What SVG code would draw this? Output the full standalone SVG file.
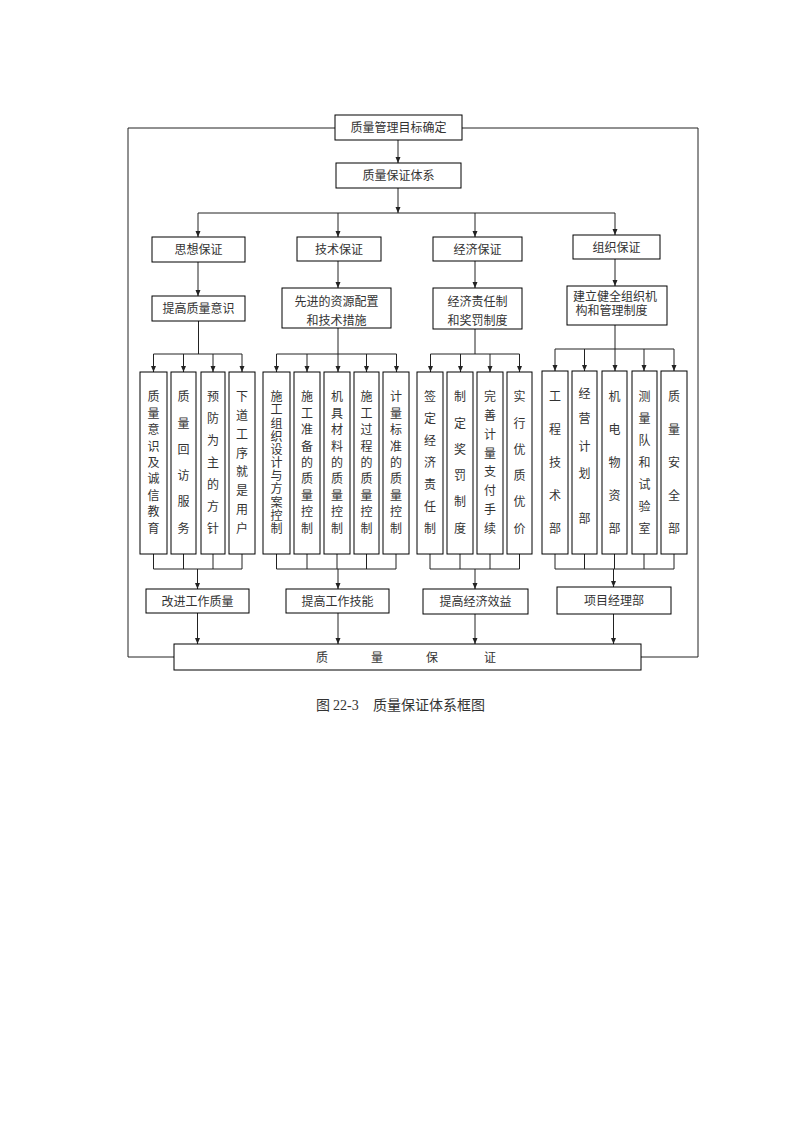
<svg xmlns="http://www.w3.org/2000/svg" width="793" height="1122" viewBox="0 0 793 1122">
<defs>
<marker id="arr" markerWidth="6" markerHeight="6" refX="6" refY="3" orient="auto" markerUnits="userSpaceOnUse"><path d="M0,0.5 L6,3 L0,5.5 z" fill="#222"/></marker>
<style>
.box{fill:#fff;stroke:#000;stroke-width:1}
.t{font-family:"Liberation Serif","Noto Sans CJK SC",serif;font-size:12px;fill:#333;text-anchor:middle}
.l{text-anchor:start}
.c path{fill:none;stroke:#222;stroke-width:1}
.c path.a{marker-end:url(#arr)}
</style>
</defs>
<rect width="793" height="1122" fill="#fff"/>
<g id="connectors" class="c">
<path d="M335,128 H128 V657 H174 M462,128 H698 V657 H641"/>
<path class="a" d="M398,140 V163"/>
<path class="a" d="M398,188 V213"/>
<path d="M198,213 H615"/>
<path class="a" d="M198,213 V237"/>
<path class="a" d="M338,213 V237"/>
<path class="a" d="M475,213 V237"/>
<path class="a" d="M615,213 V235"/>
<path class="a" d="M198,262 V296"/>
<path class="a" d="M338,261 V288"/>
<path class="a" d="M475,261 V288"/>
<path class="a" d="M615,259 V286"/>
<path d="M198.5,321 V354 M153.5,354 H242 M338,328 V354 M276.5,354 H396.5 M475,329 V354 M430.5,354 H519.5 M615,325 V349 M555,349 H674"/>
<path class="a" d="M153.5,354 V372"/>
<path class="a" d="M183.5,354 V372"/>
<path class="a" d="M213,354 V372"/>
<path class="a" d="M242,354 V372"/>
<path class="a" d="M276.5,354 V372"/>
<path class="a" d="M307,354 V372"/>
<path class="a" d="M338,354 V372"/>
<path class="a" d="M366.5,354 V372"/>
<path class="a" d="M396.5,354 V372"/>
<path class="a" d="M430.5,354 V372"/>
<path class="a" d="M460.5,354 V372"/>
<path class="a" d="M490,354 V372"/>
<path class="a" d="M519.5,354 V372"/>
<path class="a" d="M555,349 V371"/>
<path class="a" d="M584.5,349 V371"/>
<path class="a" d="M615,349 V371"/>
<path class="a" d="M644,349 V371"/>
<path class="a" d="M674,349 V371"/>
<path d="M153.5,554 V569 M183.5,554 V569 M213,554 V569 M242,554 V569 M153.5,569 H242"/>
<path d="M276.5,554 V569 M307,554 V569 M337,554 V569 M366.5,554 V569 M396,554 V569 M276.5,569 H396"/>
<path d="M430,554 V569 M460,554 V569 M490,554 V569 M519.5,554 V569 M430,569 H519.5"/>
<path d="M555,554 V569 M584.5,554 V569 M614.5,554 V569 M644,554 V569 M674,554 V569 M555,569 H674"/>
<path class="a" d="M197.5,569 V589"/>
<path class="a" d="M338,569 V589"/>
<path class="a" d="M475,569 V589"/>
<path class="a" d="M613.5,569 V587"/>
<path class="a" d="M197.5,613 V644"/>
<path class="a" d="M338,613 V644"/>
<path class="a" d="M475,614 V644"/>
<path class="a" d="M613.5,614 V644"/>
</g>
<g id="n-top"><rect class="box" x="335" y="115" width="127" height="25"/><text class="t" x="398.5" y="132">质量管理目标确定</text></g>
<g id="n-system"><rect class="box" x="336" y="163" width="125" height="25"/><text class="t" x="398.5" y="180">质量保证体系</text></g>
<g id="n-sixiang"><rect class="box" x="152" y="237" width="93" height="25"/><text class="t" x="198.5" y="254">思想保证</text></g>
<g id="n-jishu"><rect class="box" x="297" y="237" width="84" height="24"/><text class="t" x="339" y="253.5">技术保证</text></g>
<g id="n-jingji"><rect class="box" x="433" y="237" width="89" height="24"/><text class="t" x="477.5" y="253.5">经济保证</text></g>
<g id="n-zuzhi"><rect class="box" x="573" y="235" width="87" height="24"/><text class="t" x="616.5" y="251.5">组织保证</text></g>
<g id="n-yishi"><rect class="box" x="152" y="296" width="93" height="25"/><text class="t" x="198.5" y="313">提高质量意识</text></g>
<g id="n-ziyuan"><rect class="box" x="282" y="288" width="109" height="40"/><text class="t"><tspan x="336.5" y="305.5">先进的资源配置</tspan><tspan x="336.5" y="325">和技术措施</tspan></text></g>
<g id="n-zeren"><rect class="box" x="433" y="288" width="89" height="41"/><text class="t"><tspan x="477.5" y="305.5">经济责任制</tspan><tspan x="477.5" y="325">和奖罚制度</tspan></text></g>
<g id="n-jigou"><rect class="box" x="567" y="286" width="100" height="39"/><text class="t l"><tspan x="573" y="301.2">建立健全组织机</tspan><tspan x="575.5" y="315.2">构和管理制度</tspan></text></g>

<g id="n-v1"><rect class="box" x="140" y="372" width="27" height="182"/><text class="t"><tspan x="153.5" y="401.2">质</tspan><tspan x="153.5" y="417.6">量</tspan><tspan x="153.5" y="434.1">意</tspan><tspan x="153.5" y="450.5">识</tspan><tspan x="153.5" y="467">及</tspan><tspan x="153.5" y="483.4">诚</tspan><tspan x="153.5" y="499.9">信</tspan><tspan x="153.5" y="516.3">教</tspan><tspan x="153.5" y="532.8">育</tspan></text></g>
<g id="n-v2"><rect class="box" x="171" y="372" width="25" height="182"/><text class="t"><tspan x="183.5" y="401.2">质</tspan><tspan x="183.5" y="427.5">量</tspan><tspan x="183.5" y="453.8">回</tspan><tspan x="183.5" y="480.1">访</tspan><tspan x="183.5" y="506.4">服</tspan><tspan x="183.5" y="532.7">务</tspan></text></g>
<g id="n-v3"><rect class="box" x="201" y="372" width="24" height="182"/><text class="t"><tspan x="213" y="401.2">预</tspan><tspan x="213" y="423.1">防</tspan><tspan x="213" y="445.1">为</tspan><tspan x="213" y="467">主</tspan><tspan x="213" y="488.9">的</tspan><tspan x="213" y="510.9">方</tspan><tspan x="213" y="532.8">针</tspan></text></g>
<g id="n-v4"><rect class="box" x="229" y="372" width="26" height="182"/><text class="t"><tspan x="242" y="401.2">下</tspan><tspan x="242" y="420">道</tspan><tspan x="242" y="438.8">工</tspan><tspan x="242" y="457.6">序</tspan><tspan x="242" y="476.4">就</tspan><tspan x="242" y="495.2">是</tspan><tspan x="242" y="514">用</tspan><tspan x="242" y="532.8">户</tspan></text></g>

<g id="n-v5"><rect class="box" x="263" y="372" width="27" height="182"/><text class="t"><tspan x="276.5" y="401.2">施</tspan><tspan x="276.5" y="414.4">工</tspan><tspan x="276.5" y="427.5">组</tspan><tspan x="276.5" y="440.7">织</tspan><tspan x="276.5" y="453.8">设</tspan><tspan x="276.5" y="467">计</tspan><tspan x="276.5" y="480.2">与</tspan><tspan x="276.5" y="493.3">方</tspan><tspan x="276.5" y="506.5">案</tspan><tspan x="276.5" y="519.6">控</tspan><tspan x="276.5" y="532.8">制</tspan></text></g>
<g id="n-v6"><rect class="box" x="294" y="372" width="26" height="182"/><text class="t"><tspan x="307" y="401.2">施</tspan><tspan x="307" y="417.6">工</tspan><tspan x="307" y="434.1">准</tspan><tspan x="307" y="450.5">备</tspan><tspan x="307" y="467">的</tspan><tspan x="307" y="483.4">质</tspan><tspan x="307" y="499.9">量</tspan><tspan x="307" y="516.3">控</tspan><tspan x="307" y="532.8">制</tspan></text></g>
<g id="n-v7"><rect class="box" x="324" y="372" width="26" height="182"/><text class="t"><tspan x="337" y="401.2">机</tspan><tspan x="337" y="417.6">具</tspan><tspan x="337" y="434.1">材</tspan><tspan x="337" y="450.5">料</tspan><tspan x="337" y="467">的</tspan><tspan x="337" y="483.4">质</tspan><tspan x="337" y="499.9">量</tspan><tspan x="337" y="516.3">控</tspan><tspan x="337" y="532.8">制</tspan></text></g>
<g id="n-v8"><rect class="box" x="354" y="372" width="25" height="182"/><text class="t"><tspan x="366.5" y="401.2">施</tspan><tspan x="366.5" y="417.6">工</tspan><tspan x="366.5" y="434.1">过</tspan><tspan x="366.5" y="450.5">程</tspan><tspan x="366.5" y="467">的</tspan><tspan x="366.5" y="483.4">质</tspan><tspan x="366.5" y="499.9">量</tspan><tspan x="366.5" y="516.3">控</tspan><tspan x="366.5" y="532.8">制</tspan></text></g>
<g id="n-v9"><rect class="box" x="383" y="372" width="26" height="182"/><text class="t"><tspan x="396" y="401.2">计</tspan><tspan x="396" y="417.6">量</tspan><tspan x="396" y="434.1">标</tspan><tspan x="396" y="450.5">准</tspan><tspan x="396" y="467">的</tspan><tspan x="396" y="483.4">质</tspan><tspan x="396" y="499.9">量</tspan><tspan x="396" y="516.3">控</tspan><tspan x="396" y="532.8">制</tspan></text></g>

<g id="n-v10"><rect class="box" x="417" y="372" width="26" height="182"/><text class="t"><tspan x="430" y="401.2">签</tspan><tspan x="430" y="423.1">定</tspan><tspan x="430" y="445.1">经</tspan><tspan x="430" y="467">济</tspan><tspan x="430" y="488.9">责</tspan><tspan x="430" y="510.9">任</tspan><tspan x="430" y="532.8">制</tspan></text></g>
<g id="n-v11"><rect class="box" x="447" y="372" width="26" height="182"/><text class="t"><tspan x="460" y="401.2">制</tspan><tspan x="460" y="427.5">定</tspan><tspan x="460" y="453.8">奖</tspan><tspan x="460" y="480.1">罚</tspan><tspan x="460" y="506.4">制</tspan><tspan x="460" y="532.7">度</tspan></text></g>
<g id="n-v12"><rect class="box" x="477" y="372" width="26" height="182"/><text class="t"><tspan x="490" y="401.2">完</tspan><tspan x="490" y="420">善</tspan><tspan x="490" y="438.8">计</tspan><tspan x="490" y="457.6">量</tspan><tspan x="490" y="476.4">支</tspan><tspan x="490" y="495.2">付</tspan><tspan x="490" y="514">手</tspan><tspan x="490" y="532.8">续</tspan></text></g>
<g id="n-v13"><rect class="box" x="507" y="372" width="25" height="182"/><text class="t"><tspan x="519.5" y="401.2">实</tspan><tspan x="519.5" y="427.5">行</tspan><tspan x="519.5" y="453.8">优</tspan><tspan x="519.5" y="480.1">质</tspan><tspan x="519.5" y="506.4">优</tspan><tspan x="519.5" y="532.7">价</tspan></text></g>

<g id="n-v14"><rect class="box" x="542" y="371" width="26" height="183"/><text class="t"><tspan x="555" y="401.2">工</tspan><tspan x="555" y="434.1">程</tspan><tspan x="555" y="467">技</tspan><tspan x="555" y="499.9">术</tspan><tspan x="555" y="532.8">部</tspan></text></g>
<g id="n-v15"><rect class="box" x="572" y="371" width="25" height="183"/><text class="t"><tspan x="584.5" y="397.8">经</tspan><tspan x="584.5" y="422.8">营</tspan><tspan x="584.5" y="451.2">计</tspan><tspan x="584.5" y="477.8">划</tspan><tspan x="584.5" y="522.8">部</tspan></text></g>
<g id="n-v16"><rect class="box" x="602" y="371" width="25" height="183"/><text class="t"><tspan x="614.5" y="401.2">机</tspan><tspan x="614.5" y="434.1">电</tspan><tspan x="614.5" y="467">物</tspan><tspan x="614.5" y="499.9">资</tspan><tspan x="614.5" y="532.8">部</tspan></text></g>
<g id="n-v17"><rect class="box" x="632" y="371" width="25" height="183"/><text class="t"><tspan x="644.5" y="401.2">测</tspan><tspan x="644.5" y="423.1">量</tspan><tspan x="644.5" y="445.1">队</tspan><tspan x="644.5" y="467">和</tspan><tspan x="644.5" y="488.9">试</tspan><tspan x="644.5" y="510.9">验</tspan><tspan x="644.5" y="532.8">室</tspan></text></g>
<g id="n-v18"><rect class="box" x="661" y="371" width="26" height="183"/><text class="t"><tspan x="674" y="401.2">质</tspan><tspan x="674" y="434.1">量</tspan><tspan x="674" y="467">安</tspan><tspan x="674" y="499.9">全</tspan><tspan x="674" y="532.8">部</tspan></text></g>

<g id="n-gaijin"><rect class="box" x="146" y="589" width="103" height="24"/><text class="t" x="197.5" y="605.5">改进工作质量</text></g>
<g id="n-jineng"><rect class="box" x="286" y="589" width="103" height="24"/><text class="t" x="337.5" y="605.5">提高工作技能</text></g>
<g id="n-xiaoyi"><rect class="box" x="423" y="589" width="105" height="25"/><text class="t" x="475.5" y="606">提高经济效益</text></g>
<g id="n-xiangmu"><rect class="box" x="557" y="587" width="114" height="27"/><text class="t" x="614" y="605">项目经理部</text></g>
<g id="n-bottom"><rect class="box" x="174" y="644" width="467" height="26"/><text class="t"><tspan x="322" y="661.5">质</tspan><tspan x="377" y="661.5">量</tspan><tspan x="432" y="661.5">保</tspan><tspan x="490" y="661.5">证</tspan></text></g>
<text class="t l" style="font-size:14px" y="710"><tspan x="316">图</tspan><tspan x="333">22-3</tspan><tspan x="373">质量保证体系框图</tspan></text>
</svg>
